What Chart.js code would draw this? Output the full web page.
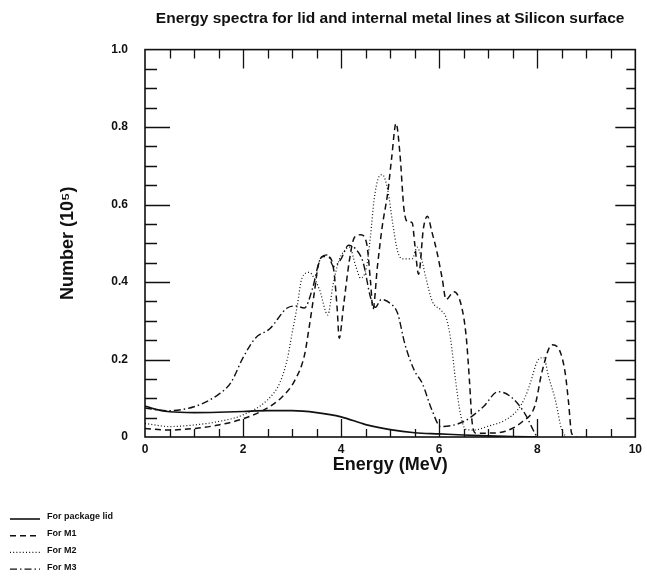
<!DOCTYPE html>
<html>
<head>
<meta charset="utf-8">
<script src="https://cdn.jsdelivr.net/npm/chart.js@4"></script>
<style>
  body { margin: 0; background: #fff; }
</style>
</head>
<body>
<canvas id="spectra" width="647" height="576"></canvas>
<script>
// energy (MeV) / number (10^5)
const lidEnergy = [0, 0.2, 0.5, 1.0, 1.5, 2.0, 2.5, 3.0, 3.5, 4.0, 4.5, 5.0, 5.5, 6.0, 6.5, 7.0, 7.5, 8.0];
const lidCounts = [0.080, 0.072, 0.065, 0.063, 0.064, 0.066, 0.068, 0.068, 0.063, 0.052, 0.032, 0.019, 0.011, 0.008, 0.005, 0.003, 0.001, 0];

const m1Energy = [0, 0.5, 1.0, 1.5, 2.0, 2.5, 2.8, 3.05, 3.25, 3.35, 3.45, 3.53, 3.62, 3.75, 3.85, 3.92, 3.96, 4.05, 4.17, 4.27,
  4.4, 4.52, 4.6, 4.65, 4.74, 4.84, 4.95, 5.03, 5.12, 5.2, 5.28, 5.35, 5.45, 5.5, 5.58, 5.68, 5.76, 5.85, 5.95, 6.06,
  6.14, 6.3, 6.45, 6.55, 6.62, 6.67, 6.75, 7.0, 7.35, 7.7, 7.95, 8.1, 8.3, 8.45, 8.57, 8.64, 8.7, 8.8];
const m1Counts = [0.022, 0.018, 0.022, 0.031, 0.047, 0.075, 0.104, 0.145, 0.21, 0.285, 0.37, 0.44, 0.466, 0.465, 0.43, 0.33, 0.255, 0.34, 0.457, 0.515,
  0.522, 0.5, 0.40, 0.33, 0.44, 0.545, 0.63, 0.72, 0.81, 0.73, 0.59, 0.556, 0.553, 0.50, 0.42, 0.54, 0.57, 0.53, 0.48, 0.41,
  0.355, 0.375, 0.34, 0.26, 0.14, 0.04, 0.01, 0.01, 0.015, 0.04, 0.08, 0.17, 0.238, 0.225, 0.165, 0.087, 0.01, 0];

const m2Energy = [0, 0.5, 1.0, 1.5, 2.0, 2.5, 2.75, 2.9, 3.0, 3.1, 3.2, 3.35, 3.45, 3.56, 3.73, 3.83, 3.96, 4.1, 4.17, 4.3,
  4.4, 4.52, 4.6, 4.67, 4.75, 4.84, 4.95, 5.05, 5.15, 5.25, 5.45, 5.55, 5.62, 5.73, 5.86, 6.03, 6.15, 6.23, 6.34, 6.44,
  6.54, 6.7, 7.0, 7.35, 7.6, 7.76, 7.86, 8.0, 8.13, 8.23, 8.37, 8.5, 8.6];
const m2Counts = [0.035, 0.027, 0.031, 0.04, 0.057, 0.096, 0.14, 0.2, 0.268, 0.335, 0.41, 0.425, 0.41, 0.38, 0.315, 0.39, 0.457, 0.485, 0.49, 0.44,
  0.41, 0.44, 0.52, 0.61, 0.665, 0.677, 0.638, 0.553, 0.48, 0.46, 0.46, 0.49, 0.47, 0.41, 0.35, 0.328, 0.305, 0.255, 0.14, 0.055,
  0.02, 0.018, 0.028, 0.044, 0.07, 0.105, 0.14, 0.195, 0.205, 0.156, 0.095, 0.018, 0];

const m3Energy = [0, 0.44, 1.0, 1.5, 1.75, 2.0, 2.25, 2.55, 2.9, 3.08, 3.25, 3.42, 3.56, 3.72, 3.85, 4.0, 4.15, 4.3, 4.45, 4.6,
  4.7, 4.82, 5.0, 5.15, 5.3, 5.5, 5.65, 5.85, 6.03, 6.5, 6.9, 7.2, 7.45, 7.75, 7.95, 8.0];
const m3Counts = [0.075, 0.068, 0.078, 0.11, 0.14, 0.205, 0.255, 0.28, 0.333, 0.338, 0.333, 0.385, 0.455, 0.47, 0.44, 0.46, 0.495, 0.485, 0.45, 0.36,
  0.335, 0.355, 0.345, 0.32, 0.24, 0.17, 0.14, 0.07, 0.027, 0.04, 0.078, 0.117, 0.105, 0.06, 0.01, 0];

const seriesNames = ["For package lid", "For M1", "For M2", "For M3"];
const xTicks = [0, 2, 4, 6, 8, 10];
const yTicks = [0, 0.2, 0.4, 0.6, 0.8, 1.0];

const FONT = "'Liberation Sans', Arial, sans-serif";
const INK = "#111";

function pairs(xs, ys) {
  return xs.map((x, i) => ({ x: x, y: ys[i] }));
}

// inward tick marks on all four sides plus the closed frame
const frameTicks = {
  id: "frameTicks",
  afterDatasetsDraw(chart) {
    const { ctx, chartArea: a, scales } = chart;
    const x = scales.x, y = scales.y;
    ctx.save();
    ctx.strokeStyle = INK;
    ctx.lineWidth = 1.3;
    ctx.beginPath();
    for (let i = 1; i < 20; i++) {
      const px = Math.round(x.getPixelForValue(i * 0.5)) + 0.5;
      const major = i % 4 === 0;
      ctx.moveTo(px, a.bottom);
      ctx.lineTo(px, a.bottom - (major ? 18 : 8));
      ctx.moveTo(px, a.top);
      ctx.lineTo(px, a.top + (major ? 19 : 9));
    }
    for (let j = 1; j < 20; j++) {
      const py = Math.round(y.getPixelForValue(j * 0.05)) + 0.5;
      const major = j % 4 === 0;
      ctx.moveTo(a.left, py);
      ctx.lineTo(a.left + (major ? 25 : 12), py);
      ctx.moveTo(a.right, py);
      ctx.lineTo(a.right - (major ? 20 : 9), py);
    }
    ctx.stroke();
    ctx.lineWidth = 1.6;
    ctx.strokeRect(a.left, a.top, a.right - a.left, a.bottom - a.top);
    ctx.restore();
  },
};

// legend stacked in the lower left corner
const cornerLegend = {
  id: "cornerLegend",
  afterDraw(chart) {
    const ctx = chart.ctx;
    ctx.save();
    ctx.font = "bold 9px " + FONT;
    ctx.fillStyle = INK;
    ctx.textBaseline = "middle";
    chart.data.datasets.forEach((ds, i) => {
      const yy = 517 + i * 16.7;
      ctx.strokeStyle = INK;
      ctx.lineWidth = ds.borderWidth;
      ctx.setLineDash(ds.borderDash || []);
      ctx.beginPath();
      ctx.moveTo(10, yy + 2);
      ctx.lineTo(40, yy + 2);
      ctx.stroke();
      ctx.setLineDash([]);
      ctx.fillText(ds.label, 47, yy);
    });
    ctx.restore();
  },
};

const line = { pointRadius: 0, fill: false, borderColor: INK, cubicInterpolationMode: "monotone" };

const spectraChart = new Chart(document.getElementById("spectra").getContext("2d"), {
  type: "line",
  data: {
    datasets: [
      Object.assign({ label: seriesNames[0], data: pairs(lidEnergy, lidCounts), borderWidth: 1.6 }, line),
      Object.assign({ label: seriesNames[1], data: pairs(m1Energy, m1Counts), borderWidth: 1.5, borderDash: [6, 4] }, line),
      Object.assign({ label: seriesNames[2], data: pairs(m2Energy, m2Counts), borderWidth: 1.2, borderDash: [1, 2.2] }, line),
      Object.assign({ label: seriesNames[3], data: pairs(m3Energy, m3Counts), borderWidth: 1.4, borderDash: [7, 3, 1.5, 3] }, line),
    ],
  },
  options: {
    responsive: false,
    animation: false,
    devicePixelRatio: 1,
    layout: { padding: { left: 0, right: 10, top: 0, bottom: 99 } },
    plugins: {
      legend: { display: false },
      tooltip: { enabled: false },
      title: {
        display: true,
        fullSize: false,
        text: "Energy spectra for lid and internal metal lines at Silicon surface",
        color: INK,
        font: { family: FONT, size: 15.5, weight: "bold" },
        padding: { top: 9, bottom: 22 },
        align: "center",
      },
    },
    scales: {
      x: {
        type: "linear",
        min: 0,
        max: 10,
        afterBuildTicks: (s) => { s.ticks = xTicks.map((v) => ({ value: v })); },
        afterFit: (s) => { s.height = 40; },
        grid: { display: false, drawTicks: false },
        border: { display: false },
        ticks: { color: INK, padding: 5, maxRotation: 0, font: { family: FONT, size: 12, weight: "bold" } },
        title: {
          display: true,
          text: "Energy (MeV)",
          color: INK,
          font: { family: FONT, size: 18, weight: "bold" },
          padding: { top: 0, bottom: 1 },
        },
      },
      y: {
        min: 0,
        max: 1,
        afterBuildTicks: (s) => { s.ticks = yTicks.map((v) => ({ value: v })); },
        afterFit: (s) => { s.width = 145; },
        grid: { display: false, drawTicks: false },
        border: { display: false },
        ticks: {
          color: INK,
          padding: 17,
          font: { family: FONT, size: 12, weight: "bold" },
          callback: (v) => (v === 0 ? "0" : v.toFixed(1)),
        },
        title: {
          display: true,
          text: "Number (10\u2075)",
          color: INK,
          font: { family: FONT, size: 18, weight: "bold" },
          padding: { top: 57, bottom: 0 },
        },
      },
    },
  },
  plugins: [frameTicks, cornerLegend],
});
</script>
</body>
</html>
